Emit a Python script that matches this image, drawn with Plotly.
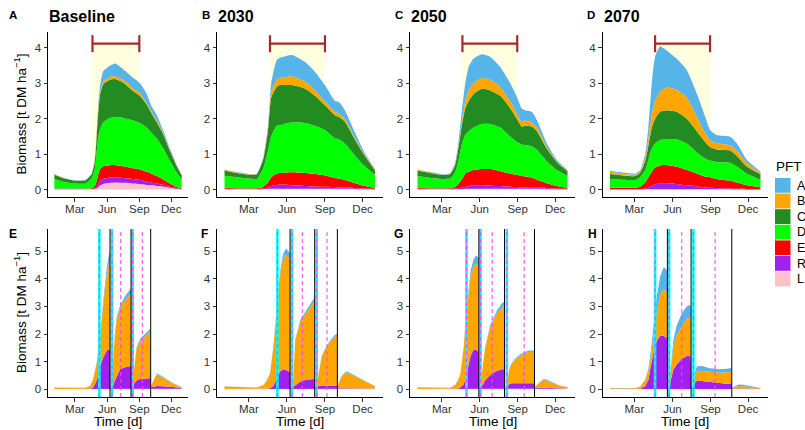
import plotly.graph_objects as go

# ------------------------------------------------------------------ data
PFT_NAMES = ["A", "B", "C", "D", "E", "R", "L"]
PFT_COLORS = ["#56B4E9", "#FFA500", "#228B22", "#00FF00", "#FF0000", "#A020F0", "#FFC0CB"]

MONTH_TICKS = [60, 152, 244, 335]
MONTH_LABELS = ["Mar", "Jun", "Sep", "Dec"]
TOP_YTICKS = [0, 1, 2, 3, 4]
BOTTOM_YTICKS = [0, 1, 2, 3, 4, 5]

SCENARIOS = ["Baseline", "2030", "2050", "2070"]
TOP_LETTERS = ["A", "B", "C", "D"]
BOTTOM_LETTERS = ["E", "F", "G", "H"]

# growing season bar (day of year) per scenario
season_start = [110, 111, 110, 110]
season_end = [244, 244, 243, 243]
season_level = 4.12

# ---- top row: unmanaged grassland, biomass per PFT [t DM/ha]
base_doy = [1, 31, 60, 90, 108, 117, 122, 127, 132, 141, 160, 175, 198, 227, 246, 265, 279, 294, 313, 332, 351, 365]
base_A = [.01, .005, .005, .005, .01, .02, .05, .1, .2, .3, .32, .36, .3, .3, .28, .25, .15, .15, .07, .05, .02, .01]
base_B = [.01, .005, .005, .005, .01, .01, .05, .1, .06, .07, .08, .08, .08, .07, .07, .05, .05, .05, .03, .02, .02, .01]
base_C = [.12, .10, .08, .09, .11, .22, .45, .75, .99, 1.08, 1.08, 1.08, 1.0, .83, .77, .65, .55, .45, .4, .28, .18, .12]
base_D = [.27, .18, .14, .14, .29, .5, .8, 1.05, 1.12, 1.24, 1.33, 1.35, 1.36, 1.35, 1.31, 1.25, 1.15, 1.07, .87, .63, .41, .24]
base_E = [.01, .01, .01, .01, .02, .06, .17, .27, .33, .36, .35, .34, .33, .3, .3, .27, .25, .21, .15, .09, .03, .02]
base_R = [.01, .01, .01, .01, .01, .02, .05, .11, .13, .14, .15, .15, .14, .13, .12, .1, .08, .07, .05, .03, .02, .01]
base_L = [.01, .01, .01, .01, .01, .02, .03, .07, .12, .16, .19, .2, .19, .17, .15, .13, .12, .1, .08, .05, .02, .01]

p2030_doy = [1, 31, 60, 79, 95, 106, 114, 127, 135, 164, 196, 220, 244, 268, 278, 292, 317, 341, 365]
p2030_A = [.01, .01, .01, .01, .03, .07, .25, .55, .57, .6, .55, .52, .45, .3, .32, .24, .15, .05, .02]
p2030_B = [.02, .02, .01, .01, .03, .05, .15, .2, .2, .25, .2, .15, .12, .1, .1, .08, .05, .03, .02]
p2030_C = [.15, .12, .11, .13, .27, .55, 1.1, 1.1, 1.13, 1.05, .97, .85, .7, .65, .63, .62, .45, .29, .12]
p2030_D = [.34, .31, .27, .26, .52, .9, 1.15, 1.35, 1.35, 1.41, 1.41, 1.36, 1.28, 1.12, 1.11, 1.03, .77, .55, .37]
p2030_E = [.03, .02, .02, .02, .05, .14, .25, .32, .33, .37, .37, .35, .32, .26, .25, .21, .14, .07, .03]
p2030_R = [.01, .01, .01, .01, .02, .04, .08, .11, .12, .1, .08, .07, .06, .05, .04, .04, .03, .02, .01]
p2030_L = [.01, .01, .01, .01, .01, .02, .02, .02, .02, .02, .02, .02, .02, .02, .02, .02, .01, .01, .01]

p2050_doy = [1, 32, 64, 80, 92, 100, 109, 117, 125, 137, 157, 177, 202, 226, 242, 254, 262, 278, 291, 315, 339, 365]
p2050_A = [.01, .01, .01, .01, .04, .1, .29, .5, .66, .7, .67, .65, .56, .5, .47, .39, .29, .3, .21, .1, .04, .01]
p2050_B = [.03, .02, .01, .01, .02, .05, .1, .2, .3, .3, .3, .3, .25, .2, .15, .12, .15, .12, .1, .05, .02, .02]
p2050_C = [.15, .14, .11, .13, .2, .35, .55, .75, .85, .95, 1.0, .95, .9, .8, .65, .51, .55, .56, .53, .35, .23, .14]
p2050_D = [.33, .29, .26, .27, .41, .65, 1.0, 1.1, 1.15, 1.2, 1.27, 1.27, 1.23, 1.05, .93, .89, .88, .88, .84, .62, .45, .33]
p2050_E = [.03, .02, .02, .02, .04, .11, .24, .37, .4, .43, .46, .47, .42, .37, .35, .32, .31, .29, .23, .14, .07, .03]
p2050_R = [.01, .01, .01, .01, .02, .03, .05, .06, .08, .1, .1, .09, .08, .06, .05, .04, .04, .03, .03, .03, .02, .01]
p2050_L = [.01, .01, .01, .01, .01, .01, .01, .02, .02, .02, .02, .02, .02, .02, .02, .02, .02, .02, .02, .01, .01, .01]

p2070_doy = [1, 33, 62, 74, 86, 94, 102, 110, 122, 138, 162, 187, 211, 231, 243, 259, 292, 308, 332, 365]
p2070_A = [.03, .03, .03, .03, .1, .32, .9, 1.25, 1.29, 1.05, .88, .77, .66, .46, .28, .24, .24, .2, .09, .03]
p2070_B = [.06, .05, .04, .04, .1, .2, .35, .5, .56, .64, .62, .6, .4, .25, .2, .17, .15, .15, .1, .04]
p2070_C = [.14, .12, .11, .13, .25, .4, .6, .7, .8, .82, .78, .7, .6, .47, .38, .35, .35, .3, .2, .15]
p2070_D = [.24, .23, .22, .27, .35, .5, .65, .68, .72, .73, .77, .75, .6, .51, .47, .48, .5, .45, .33, .22]
p2070_E = [.05, .04, .04, .07, .17, .3, .4, .47, .5, .51, .49, .43, .36, .31, .3, .26, .22, .18, .11, .05]
p2070_R = [.005, .005, .005, .005, .02, .04, .09, .14, .17, .17, .15, .11, .08, .05, .04, .03, .02, .01, .005, .005]
p2070_L = [.005, .005, .005, .005, .01, .01, .01, .01, .01, .01, .01, .01, .01, .01, .01, .01, .01, .01, .005, .005]

# ---- bottom row: mown grassland (only A, B, R, L present)
mow_base_doy = [1, 60, 89, 103, 112, 122, 132, 141, 151, 158, 160, 161, 165, 167, 171, 179, 189, 203, 218, 220,
                221, 225, 227, 232, 236, 246, 260, 273, 276, 277, 279, 294, 303, 322, 341, 365]
mow_base_A = [.005, .005, .005, .01, .02, .03, .08, .15, .25, .3, .32, .005, .005, .01, .05, .08, .1, .15, .2, .2,
              .005, .005, .02, .03, .05, .07, .1, .12, .12, .005, .01, .04, .04, .03, .02, .01]
mow_base_B = [.05, .04, .04, .1, .3, .62, 1.12, 1.9, 2.77, 3.2, 3.2, .02, .03, .44, 1.25, 2.07, 2.2, 2.42, 2.6, 2.62,
              .02, .05, .33, .72, 1.15, 1.38, 1.52, 1.65, 1.68, .03, .09, .41, .36, .24, .12, .03]
mow_base_R = [0, 0, .005, .01, .05, .3, .8, 1.15, 1.38, 1.42, 1.43, .02, .03, .05, .2, .45, .7, .78, .82, .82,
              .03, .05, .15, .25, .3, .35, .37, .38, .38, .05, .05, .1, .1, .08, .06, .02]
mow_base_L = [.005, .005, .005, .01, .01, .02, .02, .02, .02, .02, .02, .02, .02, .02, .02, .02, .02, .02, .02, .02,
              .02, .02, .02, .02, .02, .02, .02, .02, .02, .02, .02, .02, .02, .02, .02, .02]

mow_2030_doy = [1, 40, 79, 95, 104, 111, 119, 126, 131, 137, 143, 150, 158, 159.5, 160.5, 164, 167, 170, 172, 184,
                200, 216, 219, 220, 224, 226, 230, 236, 244, 256, 268, 273.5, 274.5, 276, 284, 295, 304, 320, 337, 354, 365]
mow_2030_A = [.005, .005, .005, .01, .02, .03, .05, .08, .1, .14, .18, .22, .2, .2, .005, .005, .01, .03, .05, .07,
              .1, .13, .14, .005, .005, .01, .02, .03, .04, .05, .06, .06, .005, .01, .03, .04, .04, .03, .02, .01, .01]
mow_2030_B = [.09, .08, .05, .13, .3, .52, 1.37, 2.34, 3.09, 3.62, 4.01, 4.17, 4.15, 4.1, .03, .04, .25, 1.06, 1.6, 2.17,
              2.46, 2.76, 2.8, .03, .05, .2, .67, 1.06, 1.3, 1.57, 1.76, 1.81, .05, .13, .4, .57, .52, .4, .26, .16, .08]
mow_2030_R = [0, 0, 0, .005, .01, .02, .1, .3, .5, .65, .7, .68, .6, .6, .02, .03, .05, .1, .12, .25,
              .33, .35, .35, .03, .05, .08, .1, .1, .1, .12, .12, .12, .03, .02, .02, .02, .02, .02, .01, .01, .01]
mow_2030_L = [.01, .01, .01, .01, .01, .02, .02, .02, .02, .02, .02, .02, .02, .02, .02, .02, .02, .02, .02, .02,
              .02, .02, .02, .02, .02, .02, .02, .02, .02, .02, .02, .02, .02, .02, .02, .02, .02, .02, .02, .02, .02]

mow_2050_doy = [1, 40, 80, 92, 100, 105, 113, 119, 125, 130, 137, 143, 148, 149.5, 150.5, 153.5, 155, 160, 165, 177,
                194, 206, 211.8, 212.6, 217.5, 219.5, 224, 230, 238, 250, 262, 274, 284, 285.5, 291, 307, 315, 331, 347, 365]
mow_2050_A = [.005, .005, .005, .01, .02, .03, .05, .08, .12, .2, .25, .3, .3, .3, .005, .005, .01, .02, .04, .07,
              .1, .14, .16, .005, .005, .01, .02, .03, .04, .04, .05, .05, .05, .005, .01, .03, .03, .02, .01, .01]
mow_2050_B = [.06, .05, .04, .13, .3, .48, 1.32, 2.19, 2.67, 2.89, 3.03, 3.11, 3.1, 3.05, .03, .04, .24, .73, 1.15, 1.72,
              2.09, 2.25, 2.3, .03, .03, .18, .55, .71, .85, 1.0, 1.09, 1.14, 1.12, .03, .09, .29, .25, .16, .09, .04]
mow_2050_R = [0, 0, 0, .005, .02, .05, .15, .45, .9, 1.2, 1.4, 1.42, 1.35, 1.35, .03, .03, .05, .15, .3, .5,
              .65, .7, .7, .03, .03, .1, .17, .2, .2, .2, .2, .2, .2, .04, .04, .04, .04, .03, .02, .01]
mow_2050_L = [.01, .01, .01, .01, .01, .02, .02, .02, .02, .02, .02, .02, .02, .02, .02, .02, .02, .02, .02, .02,
              .02, .02, .02, .02, .02, .02, .02, .02, .02, .02, .02, .02, .02, .02, .02, .02, .02, .02, .02, .02]

mow_2070_doy = [1, 40, 62, 74, 86, 94, 98, 106, 114, 122, 130, 134, 138, 139.5, 140.5, 143.5, 146, 150, 154, 162,
                175, 187, 193, 196.5, 197.7, 202.5, 204.5, 211, 223, 243, 267, 283, 295, 296.2, 300, 312, 324, 340, 365]
mow_2070_A = [.005, .005, .005, .01, .03, .06, .17, .35, .54, .66, .8, .8, .75, .75, .005, .005, .05, .15, .25, .35,
              .45, .45, .45, .45, .005, .005, .1, .16, .17, .13, .12, .12, .14, .005, .02, .05, .05, .04, .02]
mow_2070_B = [.03, .03, .03, .07, .2, .35, .3, .6, 1.05, 1.47, 1.65, 1.7, 1.7, 1.68, .02, .03, .25, .55, .8, 1.05,
              1.2, 1.35, 1.4, 1.4, .02, .03, .2, .34, .37, .38, .4, .42, .43, .02, .04, .09, .08, .05, .01]
mow_2070_R = [0, 0, 0, .01, .1, .33, .69, 1.29, 1.74, 1.92, 1.94, 1.89, 1.84, 1.82, .03, .04, .19, .49, .69, .89,
              1.09, 1.19, 1.19, 1.14, .03, .04, .19, .31, .29, .24, .19, .19, .19, .02, .02, .02, .02, .02, .01]
mow_2070_L = [.01, .01, .01, .01, .01, .01, .01, .01, .01, .01, .01, .01, .01, .01, .01, .01, .01, .01, .01, .01,
              .01, .01, .01, .01, .01, .01, .01, .01, .01, .01, .01, .01, .01, .01, .01, .01, .01, .01, .01]

# management events (day of year)
mow_base_cut = [160.2, 220.3, 276.5]
mow_base_regrow = [129.7, 165.9, 225.0]
mow_base_fert = [129.7, 165.9, 190.7, 225.0, 252.7]
mow_2030_cut = [159.6, 219.2, 274.0]
mow_2030_regrow = [129.0, 164.4, 224.0]
mow_2030_fert = [129.0, 164.4, 189.4, 224.0, 249.0]
mow_2050_cut = [149.9, 212.2, 284.9]
mow_2050_regrow = [119.9, 153.9, 217.8]
mow_2050_fert = [119.9, 153.9, 182.2, 217.8, 259.9]
mow_2070_cut = [139.8, 197.1, 295.6]
mow_2070_regrow = [110.0, 143.9, 202.8]
mow_2070_fert = [110.0, 143.9, 174.5, 202.8, 255.2]

# ------------------------------------------------------------------ assemble
top_panels = [
    (base_doy, dict(A=base_A, B=base_B, C=base_C, D=base_D, E=base_E, R=base_R, L=base_L)),
    (p2030_doy, dict(A=p2030_A, B=p2030_B, C=p2030_C, D=p2030_D, E=p2030_E, R=p2030_R, L=p2030_L)),
    (p2050_doy, dict(A=p2050_A, B=p2050_B, C=p2050_C, D=p2050_D, E=p2050_E, R=p2050_R, L=p2050_L)),
    (p2070_doy, dict(A=p2070_A, B=p2070_B, C=p2070_C, D=p2070_D, E=p2070_E, R=p2070_R, L=p2070_L)),
]
bottom_panels = [
    (mow_base_doy, dict(A=mow_base_A, B=mow_base_B, R=mow_base_R, L=mow_base_L),
     mow_base_cut, mow_base_regrow, mow_base_fert),
    (mow_2030_doy, dict(A=mow_2030_A, B=mow_2030_B, R=mow_2030_R, L=mow_2030_L),
     mow_2030_cut, mow_2030_regrow, mow_2030_fert),
    (mow_2050_doy, dict(A=mow_2050_A, B=mow_2050_B, R=mow_2050_R, L=mow_2050_L),
     mow_2050_cut, mow_2050_regrow, mow_2050_fert),
    (mow_2070_doy, dict(A=mow_2070_A, B=mow_2070_B, R=mow_2070_R, L=mow_2070_L),
     mow_2070_cut, mow_2070_regrow, mow_2070_fert),
]
for doy, series in top_panels:
    for k, v in series.items():
        assert len(v) == len(doy), (k, len(v), len(doy))
for doy, series, *_ in bottom_panels:
    for k, v in series.items():
        assert len(v) == len(doy), (k, len(v), len(doy))

COLOR = dict(zip(PFT_NAMES, PFT_COLORS))
STACK_ORDER = ["L", "R", "E", "D", "C", "B", "A"]   # bottom -> top

# ------------------------------------------------------------------ layout geometry (pixels)
W, H = 805, 430
FONT = "Liberation Sans, Arial, sans-serif"
COLS = [(48, 188), (217, 382.5), (410, 575), (602.5, 768)]
TOP_ROW = (32, 197)
BOT_ROW = (229, 397)
X_RANGE = [-17.2, 383.2]
TOP_YRANGE = [-0.21, 4.45]
BOT_YRANGE = [-0.28, 5.8]


def px(x):
    return x / W


def py(y):
    return 1 - y / H


fig = go.Figure()
layout = dict(width=W, height=H, margin=dict(l=0, r=0, t=0, b=0),
              paper_bgcolor="white", plot_bgcolor="white", showlegend=False,
              font=dict(family=FONT, color="black"))
shapes, annotations = [], []


def axis_style(dom, rng, tickvals, ticktext=None, anchor=None, standoff=0):
    d = dict(domain=dom, range=rng, tickvals=tickvals, showgrid=False, zeroline=False,
             showline=True, linecolor="black", linewidth=1, ticks="outside", ticklen=3.5,
             tickwidth=1, tickcolor="#333333", tickfont=dict(size=11.5, color="#333333", family=FONT),
             fixedrange=True, anchor=anchor, ticklabelstandoff=standoff)
    if ticktext is not None:
        d["ticktext"] = ticktext
    return d


for row in range(2):
    rows_px = TOP_ROW if row == 0 else BOT_ROW
    ydom = [py(rows_px[1]), py(rows_px[0])]
    for col in range(4):
        i = row * 4 + col + 1
        xs = "" if i == 1 else str(i)
        xref, yref = "x" + xs, "y" + xs
        xdom = [px(COLS[col][0]), px(COLS[col][1])]
        yr = TOP_YRANGE if row == 0 else BOT_YRANGE
        yt = TOP_YTICKS if row == 0 else BOTTOM_YTICKS
        layout["xaxis" + xs] = axis_style(xdom, X_RANGE, MONTH_TICKS, MONTH_LABELS, anchor=yref, standoff=-2)
        layout["yaxis" + xs] = axis_style(ydom, yr, yt, anchor=xref)

        if row == 0:
            doy, series = top_panels[col]
            # growing-season background
            shapes.append(dict(type="rect", xref=xref, yref=yref, x0=season_start[col], x1=season_end[col],
                               y0=0, y1=season_level, fillcolor="#FFFFE0", line=dict(width=0), layer="below"))
            for k in STACK_ORDER:
                fig.add_trace(go.Scatter(x=doy, y=series[k], mode="lines", stackgroup="top%d" % col,
                                         fillcolor=COLOR[k], line=dict(width=0, color=COLOR[k], shape="spline",
                                                                       smoothing=0.5),
                                         name=k, xaxis=xref, yaxis=yref, hoverinfo="skip"))
            # error bar
            bar = dict(color="#A52A2A", width=2.2)
            shapes.append(dict(type="line", xref=xref, yref=yref, x0=season_start[col], x1=season_end[col],
                               y0=season_level, y1=season_level, line=bar, layer="above"))
            for xv in (season_start[col], season_end[col]):
                shapes.append(dict(type="line", xref=xref, yref=yref, x0=xv, x1=xv,
                                   y0=season_level - 0.24, y1=season_level + 0.24, line=bar, layer="above"))
        else:
            doy, series, cuts, regrow, fert = bottom_panels[col]
            for k in STACK_ORDER:
                if k not in series:
                    continue
                fig.add_trace(go.Scatter(x=doy, y=series[k], mode="lines", stackgroup="bot%d" % col,
                                         fillcolor=COLOR[k], line=dict(width=0, color=COLOR[k]),
                                         name=k, xaxis=xref, yaxis=yref, hoverinfo="skip"))
            dref = yref + " domain"
            for xv in regrow:
                shapes.append(dict(type="line", xref=xref, yref=dref, x0=xv, x1=xv, y0=0, y1=1,
                                   line=dict(color="#00FFFF", width=2.6), layer="above"))
            for xv in cuts:
                shapes.append(dict(type="line", xref=xref, yref=dref, x0=xv, x1=xv, y0=0, y1=1,
                                   line=dict(color="black", width=1), layer="above"))
            for xv in fert:
                shapes.append(dict(type="line", xref=xref, yref=dref, x0=xv, x1=xv, y0=0, y1=1,
                                   line=dict(color="rgba(255,60,255,0.85)", width=1.2, dash="4px,3px"),
                                   layer="above"))

# panel letters and titles
TOP_LETTER_X = [13.5, 206, 399, 591]
BOT_LETTER_X = [13, 205, 398.5, 592]
for col in range(4):
    annotations.append(dict(text="<b>%s</b>" % TOP_LETTERS[col], x=px(TOP_LETTER_X[col]), y=py(15),
                            xref="paper", yref="paper", showarrow=False, xanchor="center", yanchor="middle",
                            font=dict(size=11.5, family=FONT, color="black")))
    annotations.append(dict(text="<b>%s</b>" % SCENARIOS[col], x=px(COLS[col][0] - 1), y=py(16),
                            xref="paper", yref="paper", showarrow=False, xanchor="left", yanchor="middle",
                            font=dict(size=16, family=FONT, color="black")))
    annotations.append(dict(text="<b>%s</b>" % BOTTOM_LETTERS[col], x=px(BOT_LETTER_X[col]), y=py(233.5),
                            xref="paper", yref="paper", showarrow=False, xanchor="center", yanchor="middle",
                            font=dict(size=12, family=FONT, color="black")))
    annotations.append(dict(text="Time [d]", x=px((COLS[col][0] + COLS[col][1]) / 2), y=py(429.8),
                            xref="paper", yref="paper", showarrow=False, xanchor="center", yanchor="bottom",
                            borderpad=0, font=dict(size=13.5, family=FONT, color="black")))

for yc in ((TOP_ROW[0] + TOP_ROW[1]) / 2, (BOT_ROW[0] + BOT_ROW[1]) / 2):
    annotations.append(dict(text="Biomass [t DM ha<sup>\u22121</sup>]", x=px(20), y=py(yc), textangle=-90,
                            xref="paper", yref="paper", showarrow=False, xanchor="center", yanchor="middle",
                            font=dict(size=13.5, family=FONT, color="black")))

# legend (drawn manually, ggplot style)
annotations.append(dict(text="PFT", x=px(774), y=py(166), xref="paper", yref="paper", showarrow=False,
                        xanchor="left", yanchor="middle", font=dict(size=13.5, family=FONT, color="black")))
for j, name in enumerate(PFT_NAMES):
    y0 = 178 + j * 15.6
    shapes.append(dict(type="rect", xref="paper", yref="paper", x0=px(775), x1=px(790.5),
                       y0=py(y0 + 14.8), y1=py(y0), fillcolor=COLOR[name], line=dict(width=0)))
    annotations.append(dict(text=name, x=px(795), y=py(y0 + 7.6), xref="paper", yref="paper", showarrow=False,
                            xanchor="left", yanchor="middle", font=dict(size=12.5, family=FONT, color="black")))

layout["shapes"] = shapes
layout["annotations"] = annotations
fig.update_layout(**layout)
# remove the browser's default 8px body margin so the 805x430 figure fills the window exactly
fig.write_html("out.html", config={"displayModeBar": False},
               post_script="document.body.style.margin='0';document.body.style.padding='0';")
